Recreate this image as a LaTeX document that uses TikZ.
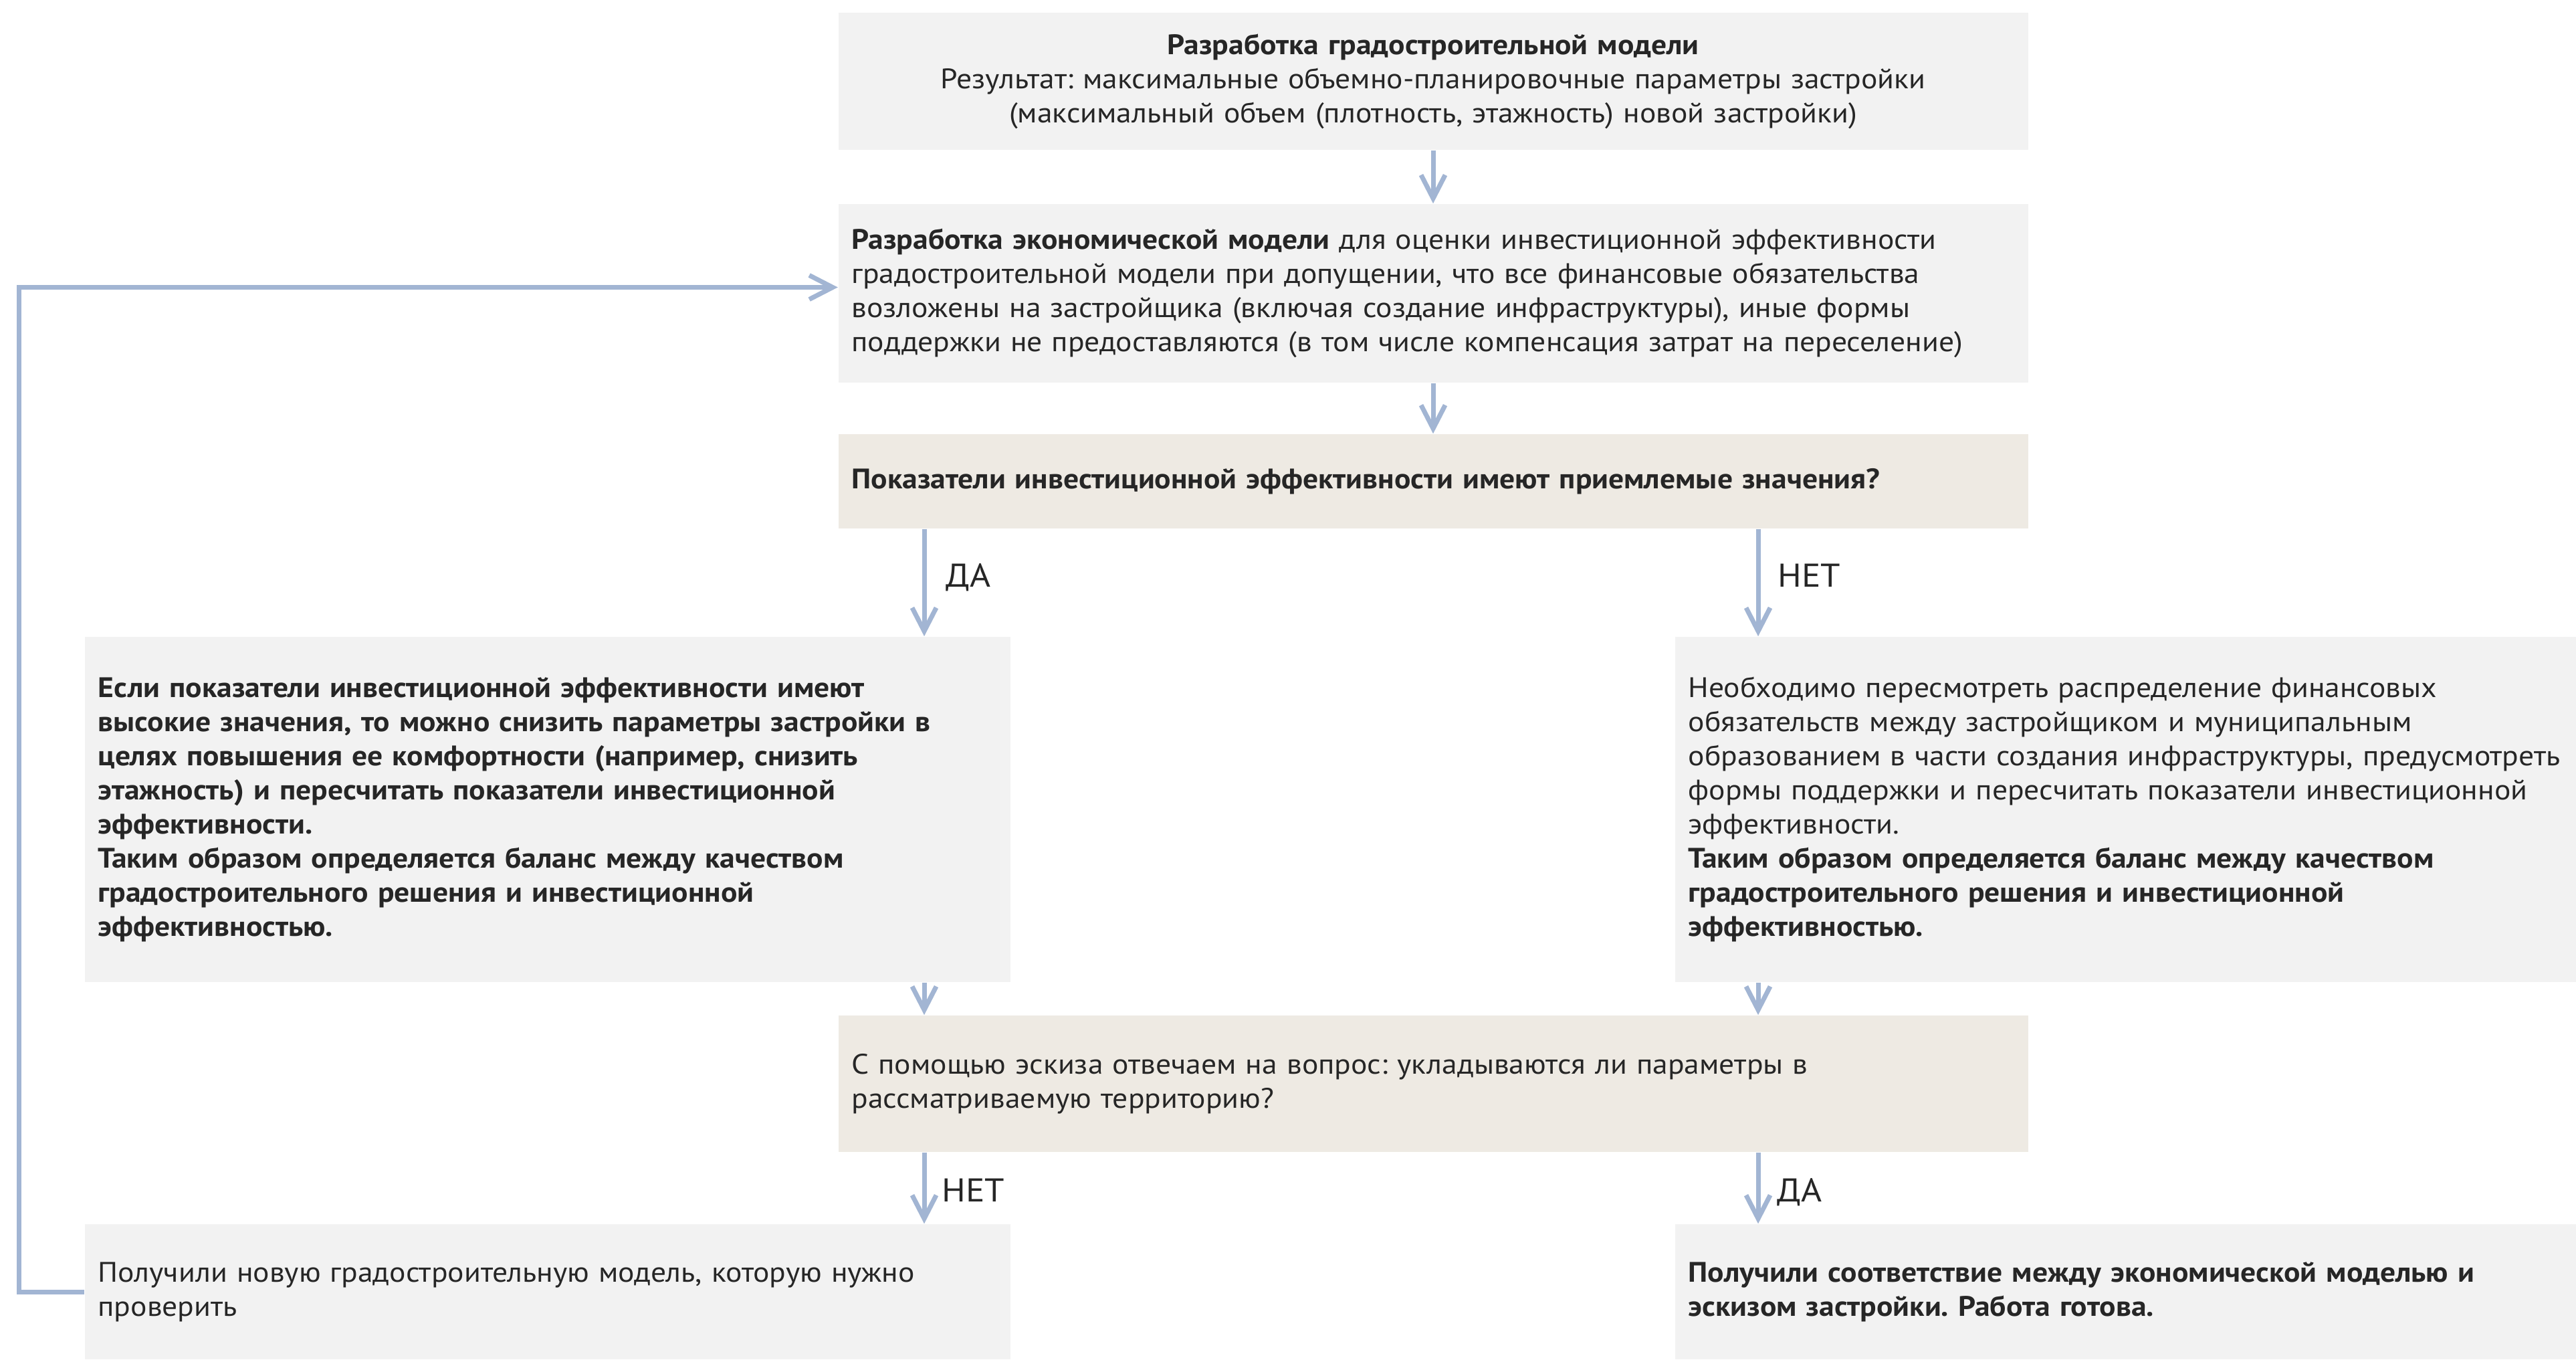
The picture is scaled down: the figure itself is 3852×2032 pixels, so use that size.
\documentclass[tikz,border=0pt]{standalone}
\usepackage{fontspec}
\setmainfont[FakeStretch=1.08]{PT Sans}
\usetikzlibrary{arrows.meta}
\frenchspacing

\definecolor{boxgray}{HTML}{F2F2F2}
\definecolor{boxbeige}{HTML}{EEEAE3}
\definecolor{flowblue}{HTML}{A2B5D3}
\definecolor{txt}{HTML}{262626}

\tikzset{
	box/.style={fill=boxgray, text=txt, inner xsep=0.2cm, inner ysep=0pt, align=left,
		font=\fontsize{12}{14.5}\selectfont},
	askbox/.style={box, fill=boxbeige},
	flow/.style={draw=flowblue, line width=0.07cm, -{Straight Barb[length=0.35cm, width=0.36cm]}},
	lbl/.style={text=txt, anchor=base west, inner sep=0pt, font=\fontsize{14}{16}\selectfont}
}

\begin{document}
\begin{tikzpicture}[x=0.01cm, y=-0.01cm]
		\useasboundingbox (0,0) rectangle (3852,2032);

		% middle column
		\node[box, align=center, text width=17.38cm, minimum height=2.05cm] (model) at (2143,121.5)
		{\textbf{Разработка градостроительной модели}\\
		Результат: максимальные объемно-планировочные параметры застройки\\
		(максимальный объем (плотность, этажность) новой застройки)};
		\node[box, text width=17.38cm, minimum height=2.67cm] (econ) at (2143,438.5)
		{\textbf{Разработка экономической модели} для оценки инвестиционной эффективности\\
		градостроительной модели при допущении, что все финансовые обязательства\\
		возложены на застройщика (включая создание инфраструктуры), иные формы\\
		поддержки не предоставляются (в том числе компенсация затрат на переселение)};
		\node[askbox, text width=17.38cm, minimum height=1.41cm] (ask1) at (2143,719.5)
		{\textbf{Показатели инвестиционной эффективности имеют приемлемые значения?}};

		% two branches
		\node[box, text width=13.44cm, minimum height=5.16cm] (yes) at (819,1210)
		{\textbf{Если показатели инвестиционной эффективности имеют}\\
		\textbf{высокие значения, то можно снизить параметры застройки в}\\
		\textbf{целях повышения ее комфортности (например, снизить}\\
		\textbf{этажность) и пересчитать показатели инвестиционной}\\
		\textbf{эффективности.}\\
		\textbf{Таким образом определяется баланс между качеством}\\
		\textbf{градостроительного решения и инвестиционной}\\
		\textbf{эффективностью.}};
		\node[box, text width=13.07cm, minimum height=5.16cm] (no) at (3178.5,1210)
		{Необходимо пересмотреть распределение финансовых\\
		обязательств между застройщиком и муниципальным\\
		образованием в части создания инфраструктуры, предусмотреть\\
		формы поддержки и пересчитать показатели инвестиционной\\
		эффективности.\\
		\textbf{Таким образом определяется баланс между качеством}\\
		\textbf{градостроительного решения и инвестиционной}\\
		\textbf{эффективностью.}};

		\node[askbox, text width=17.38cm, minimum height=2.04cm] (ask2) at (2143,1620)
		{С помощью эскиза отвечаем на вопрос: укладываются ли параметры в\\
		рассматриваемую территорию?};

		\node[box, text width=13.44cm, minimum height=2.02cm] (newm) at (819,1931)
		{Получили новую градостроительную модель, которую нужно\\
		проверить};
		\node[box, text width=13.07cm, minimum height=2.02cm] (done) at (3178.5,1931)
		{\textbf{Получили соответствие между экономической моделью и}\\
		\textbf{эскизом застройки. Работа готова.}};

		\coordinate (xl) at (1382,0);
		\coordinate (xr) at (2629,0);

		\draw[flow] (model) -- (econ);
		\draw[flow] (econ) -- (ask1);
		\draw[flow] (ask1.south -| xl) -- (yes.north -| xl);
		\draw[flow] (ask1.south -| xr) -- (no.north -| xr);
		\draw[flow] (yes.south -| xl) -- (ask2.north -| xl);
		\draw[flow] (no.south -| xr) -- (ask2.north -| xr);
		\draw[flow] (ask2.south -| xl) -- (newm.north -| xl);
		\draw[flow] (ask2.south -| xr) -- (done.north -| xr);

		% back to the economic model
		\draw[flow] (newm.west) -- ++(-97,0) |- ([yshift=0.09cm]econ.west);

		\node[lbl] (yes1) at (1414,877) {ДА};
		\node[lbl] (no1) at (2658,877) {НЕТ};
		\node[lbl] (no2) at (1408,1796) {НЕТ};
		\node[lbl] (yes2) at (2657,1796) {ДА};
	\end{tikzpicture}
\end{document}
